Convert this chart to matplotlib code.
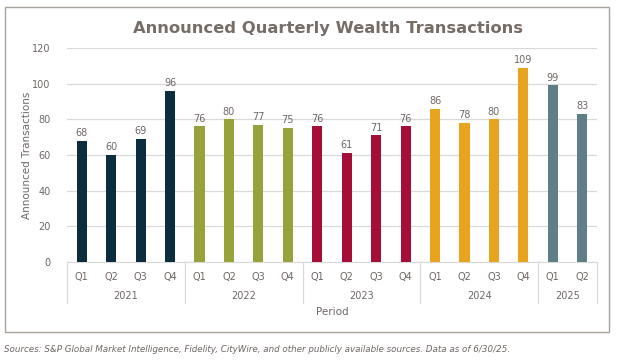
import matplotlib
matplotlib.use("Agg")
import matplotlib.pyplot as plt
from matplotlib.patches import Rectangle
from matplotlib.lines import Line2D
import matplotlib.transforms as mtransforms

quarters = ["Q1", "Q2", "Q3", "Q4", "Q1", "Q2", "Q3", "Q4", "Q1", "Q2", "Q3", "Q4",
            "Q1", "Q2", "Q3", "Q4", "Q1", "Q2"]
years = ["2021", "2022", "2023", "2024", "2025"]
year_counts = [4, 4, 4, 4, 2]
values = [68, 60, 69, 96, 76, 80, 77, 75, 76, 61, 71, 76, 86, 78, 80, 109, 99, 83]
year_colors = ["#0B2D3E", "#98A23A", "#A50E36", "#E8A31F", "#5F7E88"]

title = "Announced Quarterly Wealth Transactions"
ylabel = "Announced Transactions"
xlabel = "Period"
source = "Sources: S&P Global Market Intelligence, Fidelity, CityWire, and other publicly available sources. Data as of 6/30/25."

W, H = 619, 362
TXT = "#6E6764"
fig = plt.figure(figsize=(W / 100, H / 100), dpi=100)
plt.rcParams["font.family"] = ["DejaVu Sans"]

# outer frame
fig.patches.append(Rectangle((5 / W, 1 - 332 / H), (609 - 5) / W, (332 - 7) / H,
                             transform=fig.transFigure, fill=False,
                             edgecolor="#A9A39E", linewidth=1.0))

ax = fig.add_axes([67 / W, 1 - 262 / H, (597 - 67) / W, (262 - 48) / H])
colors = []
for c, n in zip(year_colors, year_counts):
    colors += [c] * n
x = list(range(len(values)))
ax.bar(x, values, width=0.34, color=colors, zorder=3)
for xi, v in zip(x, values):
    ax.annotate(str(v), (xi, v), xytext=(0, 2), textcoords="offset points",
                ha="center", va="bottom", fontsize=7, color=TXT)

ax.set_xlim(-0.5, len(values) - 0.5)
ax.set_ylim(0, 120)
ax.set_yticks(range(0, 121, 20))
ax.yaxis.grid(True, color="#D9D9D9", linewidth=0.9, zorder=0)
for s in ["top", "right", "left"]:
    ax.spines[s].set_visible(False)
ax.spines["bottom"].set_color("#D9D9D9")
ax.tick_params(axis="y", length=0, pad=12, labelsize=7, labelcolor=TXT)
ax.set_xticks([])

px = 1 / 214.0
bt = mtransforms.blended_transform_factory(ax.transData, ax.transAxes)
for xi, q in zip(x, quarters):
    ax.text(xi, -15 * px, q, transform=bt, ha="center", va="center",
            fontsize=7, color=TXT)
start = 0
bounds = [-0.5]
for yr, n in zip(years, year_counts):
    ax.text(start + (n - 1) / 2, -34 * px, yr, transform=bt, ha="center",
            va="center", fontsize=7, color=TXT)
    start += n
    bounds.append(start - 0.5)
for b in bounds:
    ax.add_line(Line2D([b, b], [0, -41 * px], transform=bt, color="#D9D9D9",
                       linewidth=0.9, clip_on=False))

fig.text(332 / W, 1 - 312 / H, xlabel, ha="center", va="center", fontsize=7.5, color=TXT)
fig.text(27 / W, 1 - 155 / H, ylabel, ha="center", va="center", rotation=90,
         fontsize=7.5, color=TXT)
fig.text(328 / W, 1 - 28 / H, title, ha="center", va="center", fontsize=11.8,
         fontweight="bold", color="#776D67")
fig.text(4 / W, 1 - 349 / H, source, ha="left", va="center", fontsize=6.3,
         style="italic", color="#6E6764")

fig.savefig("out.png", dpi=100)
